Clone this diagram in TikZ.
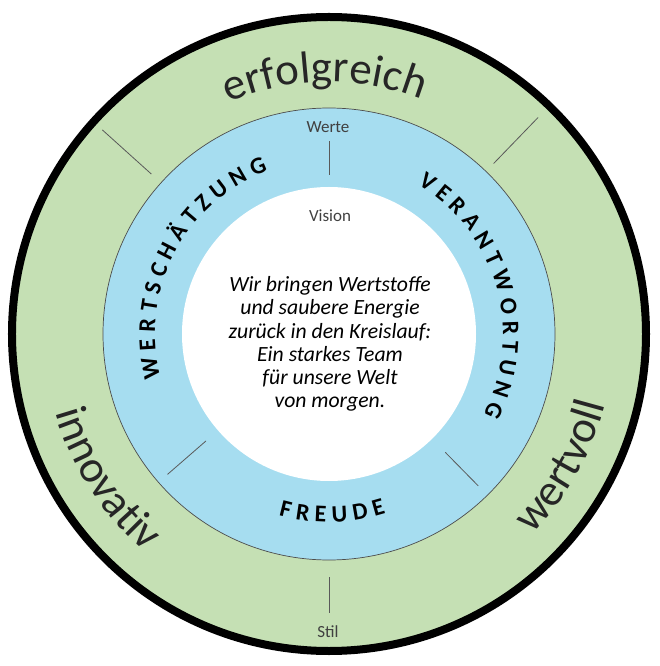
\documentclass[tikz,border=0pt]{standalone}
\usepackage{fontspec}
\setmainfont{Carlito}
\usetikzlibrary{decorations.text}

\definecolor{ringgreen}{RGB}{197,224,180}
\definecolor{ringblue}{RGB}{166,221,240}
\definecolor{tickgray}{RGB}{89,89,89}
\definecolor{labelgray}{RGB}{64,64,64}

\begin{document}
\begin{tikzpicture}[
    x=1pt, y=1pt,
    tick/.style={tickgray, line width=0.8pt},
    small label/.style={font=\fontsize{17}{20}\selectfont, text=labelgray},
    every node/.style={inner sep=0pt}
]

\def\Rout{317}     % outer ring, centre of the black border
\def\Rmid{226}     % blue ring of values
\def\Rin{147}      % white vision circle
\def\Rbig{252}     % baseline of the top word in the green ring
\def\Rlow{285}     % baseline of the lower words in the green ring
\def\Rval{174}     % baseline of the upper values
\def\Rjoy{188}     % baseline of FREUDE

\useasboundingbox (-329,-332) rectangle (331,334);

\coordinate (O) at (0,0);

\filldraw[fill=ringgreen, draw=black, line width=8pt] (O) circle[radius=\Rout];
\filldraw[fill=ringblue, draw=black!70, line width=0.7pt] (O) circle[radius=\Rmid];
\fill[white] (O) circle[radius=\Rin];

% separators
\draw[tick] (90:159) -- (90:193);
\draw[tick] (221:163) -- (221:214);
\draw[tick] (314.5:166) -- (314.5:213);
\draw[tick] (138:239) -- (138:305);
\draw[tick] (46:237) -- (46:301);
\draw[tick] (270:243) -- (270:279);

% green ring
\path[decorate, decoration={text along path, text align=center,
    text color=black!85,
    text={|\fontsize{45}{54}\selectfont|erfolgreich}}]
    (151:\Rbig) arc[start angle=151, end angle=31, radius=\Rbig];
\path[decorate, decoration={text along path, text align=center,
    text color=black!85,
    text={|\fontsize{45}{54}\selectfont|innovativ}}]
    (163:\Rlow) arc[start angle=163, end angle=263, radius=\Rlow];
\path[decorate, decoration={text along path, text align=center,
    text color=black!85,
    text={|\fontsize{45}{54}\selectfont|wertvoll}}]
    (280.5:\Rlow) arc[start angle=280.5, end angle=380.5, radius=\Rlow];

% blue ring
\path[decorate, decoration={text along path, text align=center,
    text={|\bfseries\fontsize{24}{28}\selectfont|W{\kern6pt}E{\kern6pt}R{\kern6pt}T{\kern6pt}S{\kern6pt}C{\kern6pt}H{\kern6pt}Ä{\kern6pt}T{\kern6pt}Z{\kern6pt}U{\kern6pt}N{\kern6pt}G}}]
    (235:\Rval) arc[start angle=235, end angle=70, radius=\Rval];
\path[decorate, decoration={text along path, text align=center,
    text={|\bfseries\fontsize{24}{28}\selectfont|V{\kern6pt}E{\kern6pt}R{\kern6pt}A{\kern6pt}N{\kern6pt}T{\kern6pt}W{\kern6pt}O{\kern6pt}R{\kern6pt}T{\kern6pt}U{\kern6pt}N{\kern6pt}G}}]
    (98.5:\Rval) arc[start angle=98.5, end angle=-66.5, radius=\Rval];
\path[decorate, decoration={text along path, text align=center,
    text={|\bfseries\fontsize{24}{28}\selectfont|F{\kern6pt}R{\kern6pt}E{\kern6pt}U{\kern6pt}D{\kern6pt}E}}]
    (221:\Rjoy) arc[start angle=221, end angle=321, radius=\Rjoy];

\node[small label] (werte) at (-1,206.5) {Werte};
\node[small label] (vision) at (1,118) {Vision};
\node[small label] (stil) at (-1,-298) {Stil};

\node[font=\itshape\fontsize{21.7}{23.3}\selectfont, align=center] (mission) at (1,-10)
    {Wir bringen Wertstoffe\\und saubere Energie\\zurück in den Kreislauf:\\Ein starkes Team\\für unsere Welt\\von morgen.};
\end{tikzpicture}
\end{document}
